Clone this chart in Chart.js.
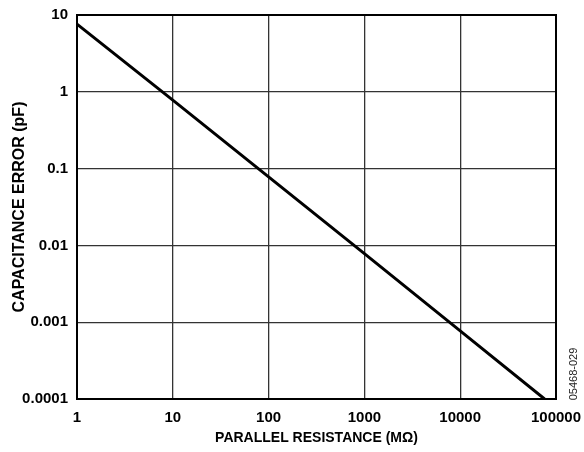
<!DOCTYPE html>
<html><head><meta charset="utf-8">
<script src="https://cdn.jsdelivr.net/npm/chart.js@4/dist/chart.umd.min.js"></script>
<style>html,body{margin:0;padding:0;background:#fff;}#wrap{width:584px;height:452px;position:relative;}</style>
</head><body><div id="wrap"><canvas id="c" width="584" height="452"></canvas></div>
<script>
const resistance = [1, 10, 100, 1000, 10000, 76000];
const capError = [7.6, 0.78, 0.078, 0.0078, 0.00077, 0.0001];
const xTicks = [1, 10, 100, 1000, 10000, 100000];
const xTickLabels = ['1', '10', '100', '1000', '10000', '100000'];
const yTicks = [0.0001, 0.001, 0.01, 0.1, 1, 10];
const yTickLabels = ['0.0001', '0.001', '0.01', '0.1', '1', '10'];
const xTitle = 'PARALLEL RESISTANCE (MΩ)';
const yTitle = 'CAPACITANCE ERROR (pF)';
const figId = '05468-029';

const FONT = '"Liberation Sans", Arial, sans-serif';

const idPlugin = {
  id: 'figId',
  afterDraw(chart) {
    const ctx = chart.ctx;
    ctx.save();
    ctx.translate(574, 374);
    ctx.rotate(-Math.PI / 2);
    ctx.font = '11px ' + FONT;
    ctx.fillStyle = '#222';
    ctx.textAlign = 'center';
    ctx.textBaseline = 'middle';
    ctx.fillText(figId, 0, 0);
    ctx.restore();
  }
};
const borderPlugin = {
  id: 'plotBorder',
  afterDatasetsDraw(chart) {
    const a = chart.chartArea, ctx = chart.ctx;
    ctx.save();
    ctx.strokeStyle = '#000';
    ctx.lineWidth = 2;
    ctx.strokeRect(a.left, a.top, a.right - a.left, a.bottom - a.top);
    ctx.restore();
  }
};

new Chart(document.getElementById('c'), {
  type: 'line',
  data: {
    datasets: [{
      data: resistance.map((x, i) => ({x: x, y: capError[i]})),
      borderColor: '#000',
      borderWidth: 3,
      pointRadius: 0,
      tension: 0,
      fill: false
    }]
  },
  options: {
    responsive: false,
    animation: false,
    layout: {padding: {top: 15, right: 28, left: 0, bottom: 0}},
    plugins: {legend: {display: false}, tooltip: {enabled: false}},
    scales: {
      x: {
        type: 'logarithmic', min: 1, max: 100000,
        afterBuildTicks: s => { s.ticks = xTicks.map(v => ({value: v})); },
        afterFit: s => { s.height = 53; s.paddingLeft = 0; s.paddingRight = 0; },
        ticks: {
          autoSkip: false, maxRotation: 0, padding: 10,
          color: '#000', font: {family: FONT, size: 15, weight: 'bold'},
          callback: (v) => { const i = xTicks.indexOf(v); return i >= 0 ? xTickLabels[i] : ''; }
        },
        grid: {color: '#333', lineWidth: 1.3, drawTicks: false},
        border: {display: false},
        title: {display: true, text: xTitle, color: '#000', font: {family: FONT, size: 14, weight: 'bold'}, padding: {top: 5, bottom: 5}}
      },
      y: {
        type: 'logarithmic', min: 0.0001, max: 10,
        afterBuildTicks: s => { s.ticks = yTicks.map(v => ({value: v})); },
        afterFit: s => { s.width = 77; s.paddingTop = 0; s.paddingBottom = 0; },
        ticks: {
          autoSkip: false, padding: 9,
          color: '#000', font: {family: FONT, size: 15, weight: 'bold'},
          callback: (v) => { const i = yTicks.indexOf(v); return i >= 0 ? yTickLabels[i] : ''; }
        },
        grid: {color: '#333', lineWidth: 1.3, drawTicks: false},
        border: {display: false},
        title: {display: true, text: yTitle, color: '#000', font: {family: FONT, size: 16, weight: 'bold'}, padding: {top: 10, bottom: 10}}
      }
    }
  },
  plugins: [borderPlugin, idPlugin]
});
</script></body></html>
